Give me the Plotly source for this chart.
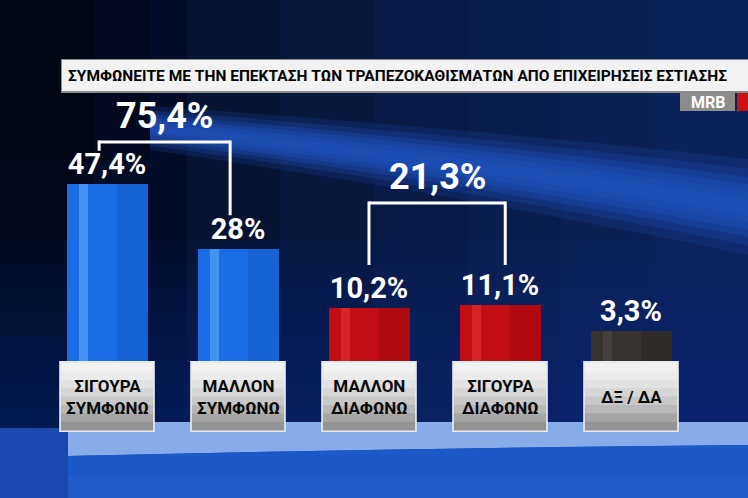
import plotly.graph_objects as go

# ---------------- data ----------------
categories = ["ΣΙΓΟΥΡΑ<br>ΣΥΜΦΩΝΩ", "ΜΑΛΛΟΝ<br>ΣΥΜΦΩΝΩ", "ΜΑΛΛΟΝ<br>ΔΙΑΦΩΝΩ",
              "ΣΙΓΟΥΡΑ<br>ΔΙΑΦΩΝΩ", "ΔΞ / ΔΑ"]
values = [47.4, 28, 10.2, 11.1, 3.3]
groups = [(0, 1), (2, 3)]          # agree total, disagree total
title_text = "ΣΥΜΦΩΝΕΙΤΕ ΜΕ ΤΗΝ ΕΠΕΚΤΑΣΗ ΤΩΝ ΤΡΑΠΕΖΟΚΑΘΙΣΜΑΤΩΝ ΑΠΟ ΕΠΙΧΕΙΡΗΣΕΙΣ ΕΣΤΙΑΣΗΣ"
source_text = "MRB"

# ---------------- style ----------------
W, H = 748, 498
BASE = -6.0                      # bars emerge from behind the label boxes
PPU = 178 / (47.4 - BASE)        # pixels per unit
BOX_TOP = 362
Y_TOP = BASE + BOX_TOP / PPU
Y_BOT = BASE - (H - BOX_TOP) / PPU
X_LEFT, X_RIGHT = 41.5, 696.5

bar_colors = ["#1a6de4", "#1a6de4", "#c20d14", "#c20d14", "#37332f"]
hi_colors = ["#4e9cf6", "#4e9cf6", "#dc2a2c", "#dc2a2c", "#48443f"]
dk_colors = ["#165fd0", "#165fd0", "#a80a10", "#a80a10", "#2b2825"]

NUM_FONT = "Roboto, Open Sans, Liberation Sans, sans-serif"
COND_FONT = "Roboto, Liberation Sans, sans-serif"


def fmt(v):
    return f"{v:g}".replace(".", ",") + "%"


def px(x):
    return x / W


def py(y):
    return 1 - y / H


def to_y(pix):
    return BASE + (BOX_TOP - pix) / PPU


xs = list(range(len(values)))
lengths = [v - BASE for v in values]

fig = go.Figure()
fig.add_trace(go.Bar(x=xs, y=lengths, base=BASE, width=0.62,
                     marker=dict(color=bar_colors, line=dict(width=0)),
                     text=[fmt(v) for v in values], textposition="outside",
                     textfont=dict(family=NUM_FONT, size=29, color="white", weight=700),
                     cliponaxis=False, hoverinfo="skip", showlegend=False))
fig.add_trace(go.Bar(x=xs, y=lengths, base=BASE, width=0.24, offset=0.07,
                     marker=dict(color=dk_colors, line=dict(width=0), opacity=0.7),
                     hoverinfo="skip", showlegend=False))
fig.add_trace(go.Bar(x=xs, y=lengths, base=BASE, width=0.07, offset=-0.22,
                     marker=dict(color=hi_colors, line=dict(width=0), opacity=0.8),
                     hoverinfo="skip", showlegend=False))

shapes = []


def rect(x0, y0, x1, y1, color, opacity=1.0, layer="below"):
    shapes.append(dict(type="rect", xref="paper", yref="paper", x0=px(x0), x1=px(x1),
                       y0=py(y1), y1=py(y0), fillcolor=color, opacity=opacity,
                       line=dict(width=0), layer=layer))


# background: horizontal gradient
bg_cols = ["#020819", "#040d27", "#061333", "#07173d", "#081a45", "#091d4c", "#0a2053", "#0a2259"]
n = len(bg_cols)
for i, c in enumerate(bg_cols):
    rect(i * W / n, 0, (i + 1) * W / n + 1, H, c)
# vertical brightening toward the floor
for k in range(8):
    y0 = 240 + k * 24
    rect(0, y0, W, 432, "#0b2d82", 0.09)
rect(0, 0, 150, 160, "#01040e", 0.35)

# diagonal light streak (soft glow made of layered bands)
for t, op in [(2.0, 0.2), (1.6, 0.26), (1.25, 0.34), (0.95, 0.4), (0.65, 0.42), (0.35, 0.4)]:
    top = [(150, 128 - 11 * t), (470, 162 - 17 * t), (748, 207 - 24 * t)]
    bot = [(150, 128 + 11 * t), (470, 162 + 17 * t), (748, 207 + 24 * t)]
    path = (f"M {px(top[0][0])} {py(top[0][1])} Q {px(top[1][0])} {py(top[1][1])} {px(top[2][0])} {py(top[2][1])} "
            f"L {px(bot[2][0])} {py(bot[2][1])} Q {px(bot[1][0])} {py(bot[1][1])} {px(bot[0][0])} {py(bot[0][1])} Z")
    shapes.append(dict(type="path", xref="paper", yref="paper", path=path,
                       fillcolor="#1d52bc", opacity=op, line=dict(width=0), layer="below"))

# floor
rect(0, 428, W, H, "#1a4ab0")
shapes.append(dict(type="path", xref="paper", yref="paper",
                   path=f"M {px(68)} {py(422)} L {px(748)} {py(422)} L {px(748)} {py(445)} "
                        f"Q {px(400)} {py(448)} {px(68)} {py(456)} Z",
                   fillcolor="#86ade9", line=dict(width=0), layer="below"))
shapes.append(dict(type="path", xref="paper", yref="paper",
                   path=f"M {px(68)} {py(456)} Q {px(400)} {py(448)} {px(748)} {py(445)} "
                        f"L {px(748)} {py(498)} L {px(68)} {py(498)} Z",
                   fillcolor="#1d58c8", line=dict(width=0), layer="below"))
rect(68, 476, W, H, "#2560cc", 0.5)

# title box
rect(61, 59, W + 5, 93, "#8a8a8a")
rect(62, 60, W + 5, 91, "#f2f2f2")
# source logo
rect(680, 93, 735, 111, "#8c8c8c")
rect(737, 93, W + 5, 111, "#cf1010")

# label boxes (gradient) under categories
grad = ["#f2f2f2", "#ebebeb", "#e2e2e2", "#d6d6d6", "#c8c8c8", "#b8b8b8", "#a6a6a6", "#949494"]
box_top, box_bot = BOX_TOP, 431
for i in xs:
    shapes.append(dict(type="rect", xref="x", yref="paper", x0=i - 0.365, x1=i + 0.365,
                       y0=py(box_bot + 1), y1=py(box_top - 1), fillcolor="#e6eaf0",
                       line=dict(width=0), layer="above"))
    step = (box_bot - box_top - 2) / len(grad)
    for j, c in enumerate(grad):
        shapes.append(dict(type="rect", xref="x", yref="paper", x0=i - 0.352, x1=i + 0.352,
                           y0=py(box_top + 1 + (j + 1) * step + 0.6), y1=py(box_top + 1 + j * step),
                           fillcolor=c, line=dict(width=0), layer="above"))

# brackets
bracket_y = [to_y(142), to_y(203)]
for (a, b), hy in zip(groups, bracket_y):
    if a == 0:
        xa, xb = a - 0.06, b - 0.06
        ya, yb = values[a] + 10, values[b] + 10
    else:
        xa, xb = a, b + 0.04
        ya = yb = max(values[a], values[b]) + 12
    line = dict(color="white", width=3)
    shapes.append(dict(type="line", xref="x", yref="y", x0=xa, x1=xb, y0=hy, y1=hy, line=line))
    shapes.append(dict(type="line", xref="x", yref="y", x0=xa, x1=xa, y0=hy + 0.45, y1=ya, line=line))
    shapes.append(dict(type="line", xref="x", yref="y", x0=xb, x1=xb, y0=hy + 0.45, y1=yb, line=line))

annotations = []
for (a, b), hy in zip(groups, bracket_y):
    xm = (a + b) / 2 - (0.06 if a == 0 else -0.02)
    annotations.append(dict(x=xm, y=hy, xref="x", yref="y", text=fmt(round(values[a] + values[b], 1)),
                            showarrow=False, yanchor="bottom", yshift=3,
                            font=dict(family=NUM_FONT, size=36, color="white", weight=700)))
for i, c in zip(xs, categories):
    annotations.append(dict(x=i, y=py(397), xref="x", yref="paper", text=c, showarrow=False,
                            yanchor="middle", align="center",
                            font=dict(family=COND_FONT, size=17, color="#0a0a0a", weight=700)))
annotations.append(dict(x=px(66), y=py(76), xref="paper", yref="paper", text=title_text,
                        showarrow=False, xanchor="left", yanchor="middle",
                        font=dict(family=COND_FONT, size=15.5, color="#050505", weight=700)))
annotations.append(dict(x=px(707.5), y=py(102), xref="paper", yref="paper", text=source_text,
                        showarrow=False, xanchor="center", yanchor="middle",
                        font=dict(family=NUM_FONT, size=16, color="white", weight=700)))

fig.update_layout(
    width=W, height=H, margin=dict(l=0, r=0, t=0, b=0),
    paper_bgcolor="#06163a", plot_bgcolor="rgba(0,0,0,0)",
    barmode="overlay", bargap=0, showlegend=False,
    xaxis=dict(domain=[px(X_LEFT), px(X_RIGHT)], range=[-0.5, 4.5], visible=False, fixedrange=True),
    yaxis=dict(domain=[0, 1], range=[Y_BOT, Y_TOP], visible=False, fixedrange=True),
    shapes=shapes, annotations=annotations,
)
fig.write_html("out.html", config={"displayModeBar": False},
               post_script="document.body.style.margin='0';document.body.style.overflow='hidden';")
